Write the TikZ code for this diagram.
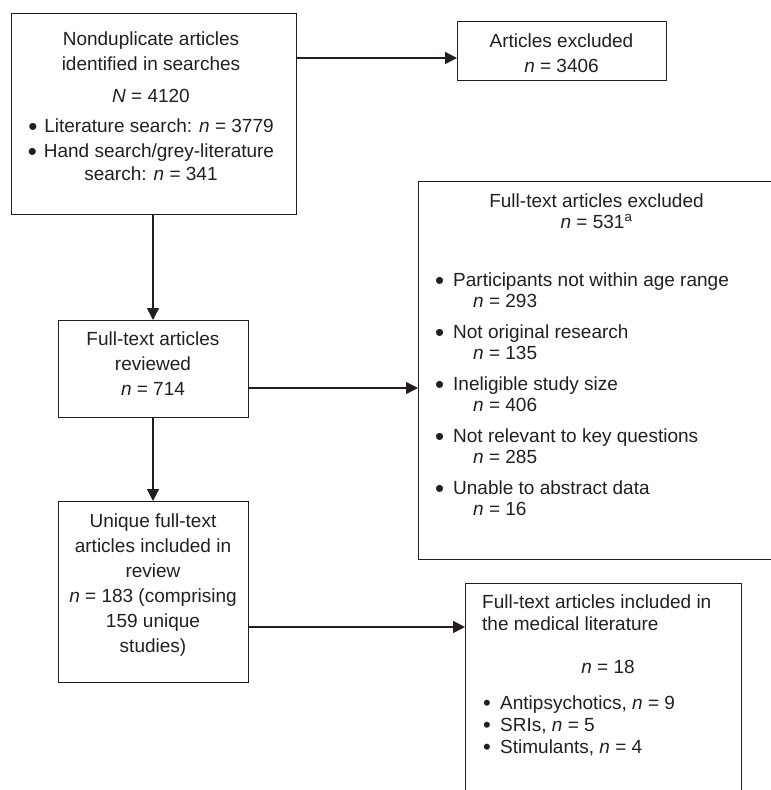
\documentclass[tikz,border=0pt]{standalone}
\usepackage{fontspec}
\usepackage{graphicx}
\setmainfont{Liberation Sans}
\usetikzlibrary{arrows.meta,calc}
\definecolor{ink}{HTML}{231F20}
\newcommand{\dotitem}[2][18pt]{\makebox[#1][l]{\raisebox{-#2em}{\scalebox{\fpeval{1+2*#2}}{\textbullet}}}}
\tikzset{
  box/.style={draw=ink, line width=1pt, inner sep=0pt, outer sep=0pt},
  txt/.style={text=ink, font=\fontsize{19}{25}\selectfont, inner sep=0pt, anchor=base},
  arr/.style={draw=ink, line width=1.4pt, -{Triangle[length=12pt,width=12pt]}}
}
\begin{document}
\begin{tikzpicture}[x=1pt, y=-1pt]
  \useasboundingbox (0,0) rectangle (771,790);
  \clip (0,0) rectangle (771,790);
  % boxes
  \node[box, minimum width=285pt, minimum height=201pt] (search) at (153.5,113.5) {};
  \node[box, minimum width=209pt, minimum height=59pt] (excl) at (561.5,50.5) {};
  \node[box, minimum width=190pt, minimum height=97pt] (reviewed) at (153,368.5) {};
  \node[box, minimum width=357pt, minimum height=378pt] (fullex) at (596.5,370) {};
  \node[box, minimum width=190pt, minimum height=181pt] (unique) at (153,591.5) {};
  \node[box, minimum width=276pt, minimum height=217pt] (lit) at (603,691.5) {};
  % texts (anchored at the baseline of the last line)
  \node[txt, align=center] (searchtxt) at (151,180)
    {Nonduplicate articles\\identified in searches\\[7pt]\textit{N} = 4120\\[5pt]
     \dotitem[16pt]{0.18}Literature search: \textit{n} = 3779\\
     \dotitem[16pt]{0.18}Hand search/grey-literature\\[-2pt]search: \textit{n} = 341};
  \node[txt, align=center] (excltxt) at (561.5,72) {Articles excluded\\\textit{n} = 3406};
  \node[txt, align=center] (reviewedtxt) at (153,395) {Full-text articles\\reviewed\\\textit{n} = 714};
  \node[txt, align=center] (fullexhead) at (596.5,228)
    {Full-text articles excluded\\[-4pt]\textit{n} = 531\textsuperscript{a}};
  \node[txt, align=left, anchor=base west] (fullexlist) at (435,515)
    {\dotitem{0.18}Participants not within age range\\[-4pt]\hspace*{38pt}\textit{n} = 293\\[6pt]
     \dotitem{0.18}Not original research\\[-4pt]\hspace*{38pt}\textit{n} = 135\\[6pt]
     \dotitem{0.18}Ineligible study size\\[-4pt]\hspace*{38pt}\textit{n} = 406\\[6pt]
     \dotitem{0.18}Not relevant to key questions\\[-4pt]\hspace*{38pt}\textit{n} = 285\\[6pt]
     \dotitem{0.18}Unable to abstract data\\[-4pt]\hspace*{38pt}\textit{n} = 16};
  \node[txt, align=center] (uniquetxt) at (153,652)
    {Unique full-text\\articles included in\\review\\\textit{n} = 183 (comprising\\159 unique\\studies)};
  \node[txt, align=left, anchor=base west] (lithead) at (482,630)
    {Full-text articles included in\\[-3pt]the medical literature};
  \node[txt] (littotal) at (608,673) {\textit{n} = 18};
  \node[txt, align=left, anchor=base west] (litlist) at (483,753)
    {\dotitem[17pt]{0.08}Antipsychotics, \textit{n} = 9\\[-3pt]
     \dotitem[17pt]{0.08}SRIs, \textit{n} = 5\\[-3pt]
     \dotitem[17pt]{0.08}Stimulants, \textit{n} = 4};
  % connectors
  \draw[arr] ($(excl.west -| search.east)+(0,7.5)$) -- ($(excl.west)+(0,7.5)$);
  \draw[arr] (search.south -| reviewed.north) -- (reviewed.north);
  \draw[arr] ($(reviewed.east)+(0,19.5)$) -- ($(reviewed.east -| fullex.west)+(0,19.5)$);
  \draw[arr] (reviewed.south) -- (unique.north);
  \draw[arr] ($(unique.east)+(0,35.5)$) -- ($(unique.east -| lit.west)+(0,35.5)$);
\end{tikzpicture}
\end{document}
